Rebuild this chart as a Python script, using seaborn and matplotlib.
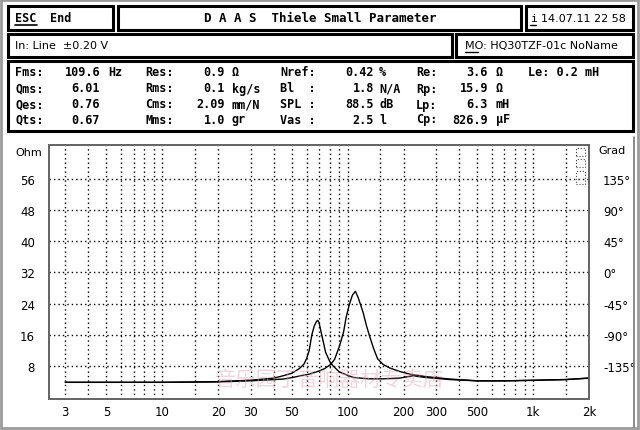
import matplotlib
matplotlib.use("Agg")
import matplotlib.pyplot as plt
import seaborn as sns
import numpy as np
import pandas as pd
from matplotlib.patches import Rectangle
from matplotlib.lines import Line2D
from matplotlib.ticker import FixedLocator, NullFormatter

# ---------------- data ----------------
imp_freq = [3, 10, 20, 30, 40, 45, 50, 56, 62, 70, 75, 81, 85, 90, 95, 98, 102, 106, 110,
            114, 121, 126, 131, 138, 145, 155, 168, 190, 216, 260, 354, 500, 700, 1000, 1500, 2000]
imp_ohm = [3.9, 3.9, 4.0, 4.3, 4.6, 4.75, 5.1, 5.6, 6.0, 6.8, 7.4, 8.5, 9.8, 13.0, 16.8, 20.5, 23.8, 26.2, 27.2,
           25.5, 21.8, 18.5, 15.8, 12.5, 9.9, 8.5, 7.6, 6.7, 6.0, 5.4, 4.75, 4.3, 4.3, 4.4, 4.6, 5.0]

ph_freq = [3, 10, 20, 24, 30, 40, 45, 50, 55, 58, 60, 62, 64, 66, 68, 69, 70, 72.6, 76, 80, 83, 90,
           100, 107, 130, 156, 190, 225, 260, 354, 500, 700, 1000, 1500, 2000]
ph_deg = [-158, -158, -157, -156, -155, -152, -148.5, -145, -138, -132, -124, -112, -90, -77, -70, -69, -72,
          -91, -115, -128, -134, -143, -148, -151, -153, -153, -152, -148.5, -151, -154, -156, -156, -155, -154, -152]

x_major = [3, 5, 10, 20, 30, 50, 100, 200, 300, 500, 1000, 2000]
x_labels = ["3", "5", "10", "20", "30", "50", "100", "200", "300", "500", "1k", "2k"]
x_minor = [4, 6, 7, 8, 9, 15, 40, 60, 70, 80, 90, 150, 400, 600, 700, 800, 900, 1500]
ohm_ticks = [8, 16, 24, 32, 40, 48, 56]
ohm_labels = ["8", "16", "24", "32", "40", "48", "56"]
deg_ticks = [-135, -90, -45, 0, 45, 90, 135]
deg_labels = ["-135°", "-90°", "-45°", "0°", "45°", "90°", "135°"]

par_labels = [["Fms:", "Qms:", "Qes:", "Qts:"],
              ["Res:", "Rms:", "Cms:", "Mms:"],
              ["Nref:", "Bl  :", "SPL :", "Vas :"],
              ["Re:", "Rp:", "Lp:", "Cp:"]]
par_values = [["109.6", "6.01", "0.76", "0.67"],
              ["0.9", "0.1", "2.09", "1.0"],
              ["0.42", "1.8", "88.5", "2.5"],
              ["3.6", "15.9", "6.3", "826.9"]]
par_units = [["Hz", "", "", ""],
             ["Ω", "kg/s", "mm/N", "gr"],
             ["%", "N/A", "dB", "l"],
             ["Ω", "Ω", "mH", "µF"]]

# ---------------- figure ----------------
sns.set_theme(style="white")
plt.rcParams["font.family"] = ["DejaVu Sans", "Noto Sans CJK SC"]

W, H = 640, 431
def fx(x): return x / W
def fy(y): return 1 - y / H

fig = plt.figure(figsize=(6.4, 4.31), dpi=100)
fig.patch.set_facecolor("white")

def box(x0, y0, x1, y1, lw=2.2, ec="black", ls="-"):
    fig.add_artist(Rectangle((fx(x0), fy(y1)), (x1 - x0) / W, (y1 - y0) / H,
                             transform=fig.transFigure, fill=False, lw=lw, ec=ec, ls=ls))

def line(x0, y0, x1, y1, lw=1.0, c="black"):
    fig.add_artist(Line2D([fx(x0), fx(x1)], [fy(y0), fy(y1)], transform=fig.transFigure, lw=lw, color=c))

def txt(x, y, s, ha="left", bold=False, size=8.5, mono=True, **kw):
    fam = ["DejaVu Sans Mono", "DejaVu Sans"] if mono else ["DejaVu Sans"]
    fig.text(fx(x), fy(y), s, ha=ha, va="center", fontsize=size,
             fontweight="bold" if bold else "normal", family=fam, color="black", **kw)

# outer frame
box(1, 1, 638, 429, lw=2, ec="#9a9a9a")
line(634, 138, 634, 428, lw=1.2, c="#777777")

# header boxes
box(8, 7, 113, 31)
box(118, 7, 521, 31)
box(526, 7, 633, 31)
box(8, 35, 452, 58)
box(456, 35, 633, 58)
box(8, 62, 633, 132)

txt(15, 19, "ESC", bold=True, size=8.5)
line(15, 26, 37, 26, lw=1.2)
txt(50, 19, "End", bold=True, size=8.5)
txt(320, 19, "D A A S  Thiele Small Parameter", ha="center", bold=True, size=9)
txt(531, 19, "i", size=8)
line(530, 26, 536, 26, lw=1.0)
txt(541, 19, "14.07.11 22 58", size=8, mono=False)
txt(15, 46, "In: Line  ±0.20 V", size=8, mono=False)
txt(465, 46, "MO: HQ30TZF-01c NoName", size=8, mono=False)
line(465, 53, 478, 53, lw=1.0)

# parameters
row_y = [73, 89, 105, 120]
lab_x = [15, 145, 280, 416]
val_r = [100, 225, 374, 488]
unit_x = [108, 232, 379, 496]
for c in range(4):
    for r in range(4):
        txt(lab_x[c], row_y[r], par_labels[c][r], bold=True)
        txt(val_r[c], row_y[r], par_values[c][r], ha="right", bold=True)
        if par_units[c][r]:
            txt(unit_x[c], row_y[r], par_units[c][r], bold=True)
txt(528, 73, "Le: 0.2 mH", bold=True)

# ---------------- chart ----------------
ax = fig.add_axes([fx(49), fy(400), (589 - 49) / W, (400 - 146) / H])
ax.set_facecolor("white")
ax.set_xscale("log")
ylo, yhi = -0.36, 64.6
ax.set_ylim(ylo, yhi)

sns.lineplot(x=imp_freq, y=imp_ohm, ax=ax, color="black", lw=1.0, sort=True)

ax2 = ax.twinx()
ax2.set_ylim((ylo - 32) * 45 / 8, (yhi - 32) * 45 / 8)
sns.lineplot(x=ph_freq, y=ph_deg, ax=ax2, color="black", lw=1.0, sort=True)
ax.set_xlim(2.45, 2000)

ax.xaxis.set_major_locator(FixedLocator(x_major))
ax.xaxis.set_minor_locator(FixedLocator(x_minor))
ax.set_xticklabels(x_labels)
ax.xaxis.set_minor_formatter(NullFormatter())
ax.set_yticks(ohm_ticks)
ax.set_yticklabels(ohm_labels)
ax2.set_yticks(deg_ticks)
ax2.set_yticklabels(deg_labels)

dot = (0, (1, 2.2))
ax.grid(True, which="both", axis="x", color="black", linestyle=dot, lw=1.0)
ax.grid(True, which="major", axis="y", color="black", linestyle=dot, lw=1.0)
ax2.grid(False)
ax.set_axisbelow(True)

ax.tick_params(axis="both", which="both", length=0, labelsize=8.5, colors="black")
ax.tick_params(axis="y", pad=10)
ax.tick_params(axis="x", pad=4)
ax2.tick_params(axis="y", length=0, labelsize=8.5, colors="black", pad=10)
ax.set_xlabel("")
ax.set_ylabel("")
ax2.set_ylabel("")
for a in (ax, ax2):
    for s in a.spines.values():
        s.set_color("#666666")
        s.set_linewidth(1.3)

txt(29, 153, "Ohm", ha="center", size=8, mono=False)
txt(598, 151, "Grad", size=8, mono=False)

# small icon boxes in the top-right corner
box(576, 149, 585, 157, lw=0.8, ec="#444444", ls=":")
box(576, 160, 585, 168, lw=0.8, ec="#444444", ls=":")
box(576, 172, 585, 185, lw=0.8, ec="#444444", ls=":")

# faint watermark
fig.text(fx(330), fy(380), "音乐园丁音响器材专卖店", ha="center", va="center",
         fontsize=15, style="italic", color="#e8a0b0", alpha=0.45,
         family=["Noto Sans CJK SC", "DejaVu Sans"])

fig.savefig("out.png", dpi=100, facecolor="white")
